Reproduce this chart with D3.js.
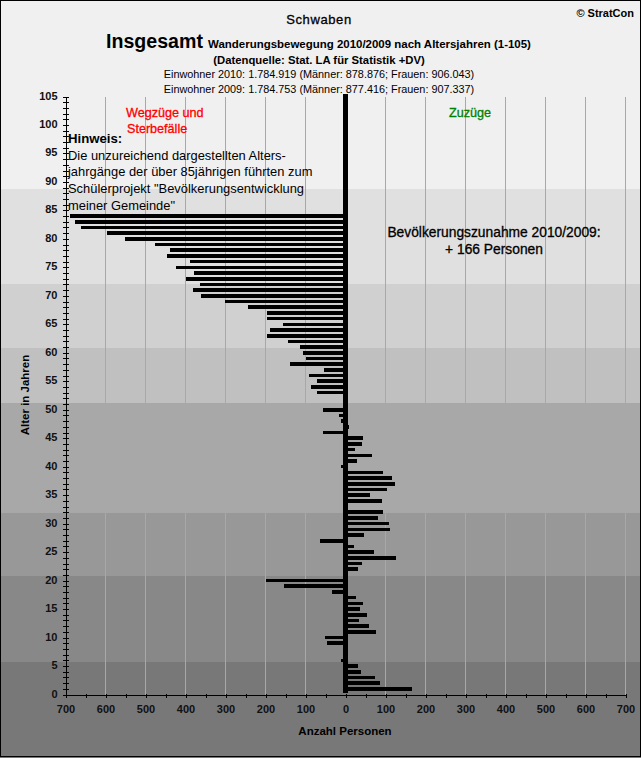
<!DOCTYPE html>
<html>
<head>
<meta charset="utf-8">
<script src="https://cdn.jsdelivr.net/npm/d3@7"></script>
<style>
  html, body { margin: 0; padding: 0; background: #fff; }
  svg { display: block; }
  text { font-family: "Liberation Sans", Arial, sans-serif; fill: #000; }
  .axis text { font-size: 11px; font-weight: bold; fill: #111; }
  .axis path, .axis line { stroke: #000; shape-rendering: crispEdges; }
</style>
</head>
<body>
<div id="chart"></div>
<script>
// Chart parameters
var svgWidth = 641;
var svgHeight = 758;

// Ages 1 to 84, negative = Wegzüge, positive = Zuzüge
var ages = d3.range(1, 85);
var saldo = [
  166, 87, 74, 39, 32, -11, 0, 0, -46, -51,
  77, 59, 34, 54, 37, 44, 27, -33, -153, -198,
  0, 32, 42, 127, 72, 22, -63, 47, 112, 109,
  82, 94, 0, 92, 62, 104, 124, 117, 94, -11,
  29, 67, 24, 42, 44, -56, 9, -11, -16, -56,
  0, 0, -71, -86, -71, -91, -53, -138, -98, -106,
  -113, -143, -196, -188, -156, -196, -196, -243, -301, -361,
  -381, -363, -398, -378, -423, -388, -446, -438, -476, -551,
  -596, -661, -676, -688
];

// Grey background bands (upper age limit, colour from the top down)
var bandTops = [105, 88.7, 72, 60.9, 51.2, 31.8, 20.8, 5.7];
var bandColors = ["#f0f0f0", "#e0e0e0", "#d0d0d0", "#c0c0c0", "#a8a8a8", "#989898", "#888888", "#787878"];

var gridValues = [-600, -500, -400, -300, -200, -100, 100, 200, 300, 400, 500, 600, 700];

var hinweisLines = [
  "Die unzureichend dargestellten Alters-",
  "jahrgänge der über 85jährigen führten zum",
  "Schülerprojekt \"Bevölkerungsentwicklung",
  "meiner Gemeinde\""
];

var svg = d3.select("#chart")
  .append("svg")
  .attr("width", svgWidth)
  .attr("height", svgHeight);

var xScale = d3.scaleLinear().domain([-700, 700]).range([65.5, 625.5]);
var yScale = d3.scaleLinear().domain([0, 105]).range([694.5, 96.5]);

// Bands run over the whole picture, the lowest one down to the border
svg.selectAll(".band")
  .data(bandTops)
  .enter()
  .append("rect")
  .attr("class", "band")
  .attr("x", 0)
  .attr("width", svgWidth)
  .attr("y", (d, i) => i == 0 ? 0 : Math.round(yScale(d)))
  .attr("height", (d, i) => {
    var top = i == 0 ? 0 : Math.round(yScale(d));
    var bottom = i < bandTops.length - 1 ? Math.round(yScale(bandTops[i + 1])) : svgHeight;
    return bottom - top;
  })
  .attr("fill", (d, i) => bandColors[i]);

// Cyan grid lines
svg.selectAll(".grid")
  .data(gridValues)
  .enter()
  .append("line")
  .attr("class", "grid")
  .attr("x1", d => xScale(d))
  .attr("x2", d => xScale(d))
  .attr("y1", yScale(105))
  .attr("y2", yScale(0))
  .style("stroke", "#00f0f0")
  .style("stroke-width", 1)
  .style("shape-rendering", "crispEdges");

// Bars
svg.selectAll(".bar")
  .data(ages)
  .enter()
  .filter((d, i) => saldo[i] != 0)
  .append("rect")
  .attr("class", "bar")
  .attr("x", d => xScale(Math.min(0, saldo[d - 1])))
  .attr("width", d => Math.abs(xScale(saldo[d - 1]) - xScale(0)))
  .attr("y", d => yScale(d) - 1.8)
  .attr("height", 3.6)
  .attr("fill", "#000")
  .attr("shape-rendering", "crispEdges");

// Thick zero line
svg.append("rect")
  .attr("x", xScale(0) - 2.5)
  .attr("width", 5)
  .attr("y", yScale(105) - 2.5)
  .attr("height", yScale(0) - yScale(105) + 0.7)
  .attr("fill", "#000")
  .attr("shape-rendering", "crispEdges");

// Axes
var leftAxis = d3.axisLeft(yScale)
  .tickValues(d3.range(0, 106))
  .tickFormat(d => d % 5 == 0 ? d : "")
  .tickSize(3)
  .tickSizeOuter(0);

var yAxis = svg.append("g")
  .attr("class", "axis")
  .attr("transform", `translate(${xScale(-700)}, 0)`)
  .call(leftAxis);

yAxis.selectAll(".tick line").attr("x1", -3).attr("x2", 3);
yAxis.selectAll(".tick text").attr("x", -8).attr("y", -1);

var bottomAxis = d3.axisBottom(xScale)
  .tickValues(d3.range(-700, 701, 50))
  .tickFormat(d => d % 100 == 0 ? Math.abs(d) : "")
  .tickSize(3)
  .tickSizeOuter(0);

var xAxis = svg.append("g")
  .attr("class", "axis")
  .attr("transform", `translate(0, ${yScale(0)})`)
  .call(bottomAxis);

xAxis.selectAll(".tick line").attr("y1", -1);
xAxis.selectAll(".tick text").attr("y", 11);

// Helper for all the loose text
function label(txt, x, y, size, weight, anchor, color) {
  return svg.append("text")
    .attr("x", x)
    .attr("y", y)
    .attr("dy", "0.35em")
    .attr("font-size", size)
    .attr("font-weight", weight)
    .attr("text-anchor", anchor)
    .style("fill", color || "#000")
    .text(txt);
}

// the reference text is hinted and looks heavier, a thin outline gets close
function heavy(sel, color) {
  return sel.style("stroke", color || "#000").style("stroke-width", 0.3);
}

heavy(label("Schwaben", 319, 19, 13, "normal", "middle").attr("letter-spacing", 0.6));
label("© StratCon", 634, 13, 11, "bold", "end");
label("Insgesamt", 106, 41, 19.6, "bold", "start");
label("Wanderungsbewegung 2010/2009 nach Altersjahren (1-105)", 208, 44, 11.47, "bold", "start");
label("(Datenquelle: Stat. LA für Statistik +DV)", 319, 60, 11.3, "bold", "middle");
label("Einwohner 2010: 1.784.919 (Männer: 878.876; Frauen: 906.043)", 319, 74, 10.85, "normal", "middle");
label("Einwohner 2009: 1.784.753 (Männer: 877.416; Frauen: 907.337)", 319, 89, 10.85, "normal", "middle");

heavy(label("Wegzüge und", 126, 113, 12.6, "normal", "start", "#ff0000"), "#ff0000");
heavy(label("Sterbefälle", 127, 129, 12.6, "normal", "start", "#ff0000"), "#ff0000");
heavy(label("Zuzüge", 449, 113, 12.6, "normal", "start", "#008000"), "#008000");

label("Hinweis:", 68, 138, 13.2, "bold", "start");
hinweisLines.forEach(function (line, i) {
  label(line, 68, 155 + i * 16.8, 12.9, "normal", "start");
});

heavy(label("Bevölkerungszunahme 2010/2009:", 494, 232, 13.8, "normal", "middle"));
heavy(label("+ 166 Personen", 494, 249, 13.8, "normal", "middle"));

label("Anzahl Personen", 345, 731, 11.5, "bold", "middle");

svg.append("text")
  .attr("transform", "translate(25, 395) rotate(-90)")
  .attr("dy", "0.35em")
  .attr("text-anchor", "middle")
  .attr("font-size", 11.5)
  .attr("font-weight", "bold")
  .text("Alter in Jahren");

// Frame around the picture
svg.append("rect")
  .attr("x", 0.5)
  .attr("y", 0.5)
  .attr("width", 639.5)
  .attr("height", 756)
  .attr("fill", "none")
  .attr("stroke", "#000")
  .attr("shape-rendering", "crispEdges");
</script>
</body>
</html>
